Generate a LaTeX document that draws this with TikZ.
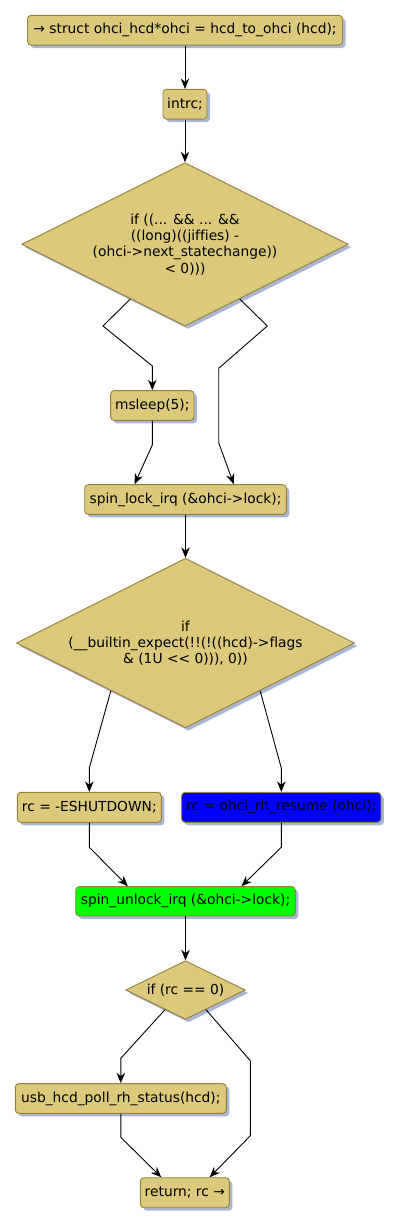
\documentclass[tikz,border=0pt]{standalone}
\usepackage{fontspec}
\newfontfamily\dv{DejaVu Sans}[Ligatures=CommonOff]
\usetikzlibrary{arrows.meta,shapes.geometric,shadows,calc}
\definecolor{boxfill}{RGB}{219,201,124}
\definecolor{boxline}{RGB}{150,128,60}
\definecolor{shadowc}{RGB}{160,176,208}
\tikzset{
  base/.style={draw=boxline, line width=0.9pt, fill=boxfill, font=\dv\fontsize{13.8}{16.3}\selectfont,
    text=black, drop shadow={shadow xshift=3pt, shadow yshift=-3pt, fill=shadowc, opacity=0.9}},
  stepbox/.style={base, rectangle, rounded corners=3.5pt, inner xsep=1pt, inner ysep=0pt,
    minimum height=29.7pt, anchor=center},
  decbox/.style={base, diamond, shape aspect=2, inner sep=0pt, align=center},
  arr/.style={draw=black, line width=0.9pt, -{Stealth[length=10.5pt,width=8.5pt,inset=3.5pt]}},
}
\begin{document}
\begin{tikzpicture}[x=1pt,y=-1pt]
\useasboundingbox (0,0) rectangle (400,1226);
\fill[white] (0,0) rectangle (400,1226);

\node[stepbox, minimum width=315pt] (top) at (185,30.2) {→ struct ohci\_hcd*ohci = hcd\_to\_ohci (hcd);};
\node[stepbox, minimum width=44pt] (intrc) at (185,104.2) {intrc;};
\node[decbox, minimum width=326.6pt, minimum height=163.3pt] (d1) at (185,244.3)
  {if ((... \&\& ... \&\&\\((long)((jiffies) -\\(ohci->next\_statechange))\\< 0)))};
\node[stepbox, minimum width=83.3pt] (ms) at (152.3,405.5) {msleep(5);};
\node[stepbox, minimum width=201.6pt] (sl) at (185.5,499.5) {spin\_lock\_irq (\&ohci->lock);};
\node[decbox, minimum width=338.3pt, minimum height=169.4pt] (d2) at (185.5,643)
  {if\\(\_\_builtin\_expect(!!(!((hcd)->flags\\\& (1U << 0))), 0))};
\node[stepbox, minimum width=144pt, minimum height=30pt] (rcE) at (89.3,807.3) {rc = -ESHUTDOWN;};
\node[stepbox, minimum width=199.3pt, minimum height=30pt, fill=blue] (rcR) at (281.3,807.3) {rc = ohci\_rh\_resume (ohci);};
\node[stepbox, minimum width=219.6pt, minimum height=29.3pt, fill=green] (su) at (185.5,901.3) {spin\_unlock\_irq (\&ohci->lock);};
\node[decbox, minimum width=119.6pt, minimum height=58.6pt] (d3) at (185.5,990) {if (rc == 0)};
\node[stepbox, minimum width=211pt] (usb) at (120.8,1098.5) {usb\_hcd\_poll\_rh\_status(hcd);};
\node[stepbox, minimum width=89pt, minimum height=30pt] (ret) at (184.8,1192.7) {return; rc →};

\draw[arr] (top.south) -- (intrc.north);
\draw[arr] (intrc.south) -- (d1.north);
\draw[arr] (d1.-135) -- (103,326) -- (152.3,366) -- (ms.north);
\draw[arr] (d1.-45) -- (267.3,326) -- (218.7,368.3) -- (218.7,442.7) -- ([xshift=-53pt]sl.north east);
\draw[arr] (ms.south) -- (152.3,445) -- ([xshift=50.3pt]sl.north west);
\draw[arr] (sl.south) -- (d2.north);
\draw[arr] ($(d2.west)!0.56!(d2.south)$) -- (89.3,768) -- (rcE.north);
\draw[arr] ($(d2.east)!0.56!(d2.south)$) -- (281.3,768) -- (rcR.north);
\draw[arr] (rcE.south) -- (89.3,847.3) -- ([xshift=52.6pt]su.north west);
\draw[arr] (rcR.south) -- (281.3,847.3) -- ([xshift=-54.3pt]su.north east);
\draw[arr] (su.south) -- (d3.north);
\draw[arr] ($(d3.west)!0.66!(d3.south)$) -- (120.8,1058.3) -- (usb.north);
\draw[arr] ($(d3.east)!0.66!(d3.south)$) -- (250.3,1060.7) -- (250.3,1135.7) -- ([xshift=-20pt]ret.north east);
\draw[arr] (usb.south) -- (120.8,1137.3) -- ([xshift=21.4pt]ret.north west);
\end{tikzpicture}
\end{document}
